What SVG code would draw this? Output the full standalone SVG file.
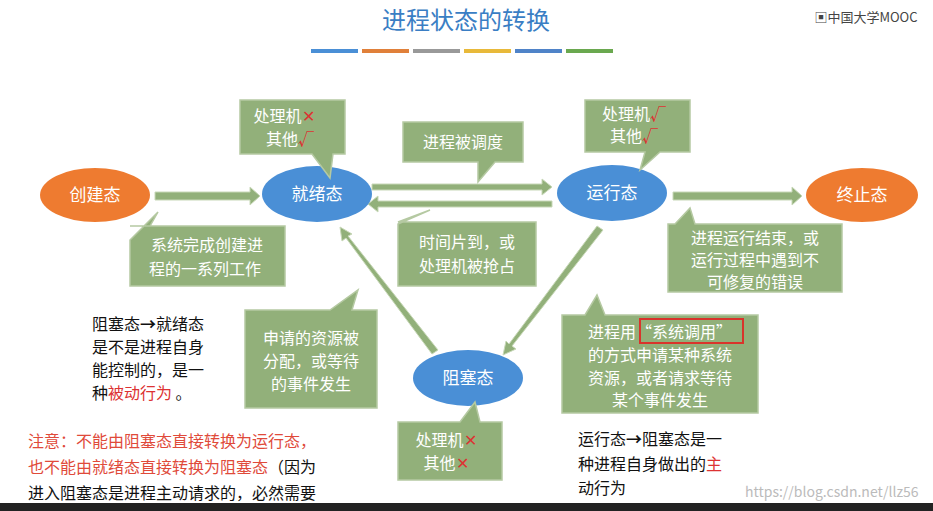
<svg xmlns="http://www.w3.org/2000/svg" width="933" height="511" viewBox="0 0 933 511">
<style>
text{font-family:"Noto Sans CJK SC","Liberation Sans",sans-serif}
.co{fill:#92b07a;stroke:#b5c9a2;stroke-width:1.5}
.ct{fill:#fff;font-size:16px;text-anchor:middle}
.st{fill:#fff;font-size:17px;text-anchor:middle}
.blk{fill:#4a8fd6}
.org{fill:#ee7b30}
.ar{fill:#92b07a;stroke:#c8d8b8;stroke-width:1}
.bt{font-size:16px;fill:#111}
.red{fill:#d33}
.nt{font-size:16px;fill:#e04a3a}
</style>
<rect width="933" height="511" fill="#fff"/>
<text x="466" y="29" font-size="24" fill="#3a7ec4" text-anchor="middle">进程状态的转换</text>
<g>
<rect x="311" y="49" width="47" height="4" fill="#4a8fd6"/>
<rect x="362" y="49" width="47" height="4" fill="#e0803a"/>
<rect x="413" y="49" width="47" height="4" fill="#999"/>
<rect x="464" y="49" width="47" height="4" fill="#e8b93a"/>
<rect x="515" y="49" width="47" height="4" fill="#4f83c8"/>
<rect x="566" y="49" width="47" height="4" fill="#6aa84f"/>
</g>
<text x="866" y="22" font-size="13" fill="#444" text-anchor="middle">▣中国大学MOOC</text>
<g id="connectors">
<polygon class="ar" points="155,192 250,192 250,187 260,196 250,205 250,200 155,200"/>
<polygon class="ar" points="372,184 542,184 542,179 552,187 542,195 542,190 372,190"/>
<polygon class="ar" points="552,201 378,201 378,196 368,204 378,212 378,207 552,207"/>
<polygon class="ar" points="673,192 792,192 792,187 802,196 792,205 792,200 673,200"/>
<polygon class="ar" points="597,226 603,230 512,346 516,349 503,355 506,341 509,344"/>
<polygon class="ar" points="438,350 432,354 346,238 342,241 340,227 352,234 348,236"/>
</g>
<g id="n1"><ellipse class="org" cx="95" cy="195" rx="55" ry="27"/><text class="st" x="95" y="201">创建态</text></g>
<g id="n2"><ellipse class="blk" cx="317" cy="194" rx="55" ry="28"/><text class="st" x="317" y="200">就绪态</text></g>
<g id="n3"><ellipse class="blk" cx="612" cy="193" rx="55" ry="28"/><text class="st" x="612" y="199">运行态</text></g>
<g id="n4"><ellipse class="org" cx="862" cy="195" rx="56" ry="27"/><text class="st" x="862" y="201">终止态</text></g>
<g id="n5"><ellipse class="blk" cx="468" cy="378" rx="55" ry="28"/><text class="st" x="468" y="384">阻塞态</text></g>
<g id="c1"><path class="co" d="M240,100 H345 V154 H333 L330,178 L312,154 H240 Z"/><text class="ct" x="284" y="122">处理机<tspan class="red">✕</tspan></text><text class="ct" x="290" y="145">其他<tspan class="red" font-weight="bold">√</tspan></text></g>
<g id="c2"><path class="co" d="M403,122 H523 V162 H495 L478,182 L478,162 H403 Z"/><text class="ct" x="463" y="148">进程被调度</text></g>
<g id="c3"><path class="co" d="M585,100 H690 V152 H660 L640,170 L645,152 H585 Z"/><text class="ct" x="634" y="120">处理机<tspan class="red" font-weight="bold">√</tspan></text><text class="ct" x="634" y="142">其他<tspan class="red" font-weight="bold">√</tspan></text></g>
<g id="c4"><path class="co" d="M130,226 H285 V286 H130 V240 L158,212 L150,226 Z"/><text class="ct" x="207" y="251">系统完成创建进</text><text class="ct" x="205" y="275">程的一系列工作</text></g>
<g id="c5"><path class="co" d="M398,222 H536 V286 H398 V224 L430,210 Z"/><text class="ct" x="467" y="248">时间片到，或</text><text class="ct" x="467" y="272">处理机被抢占</text></g>
<g id="c6"><path class="co" d="M668,224 H675 L690,208 L695,224 H842 V292 H668 Z"/><text class="ct" x="755" y="244">进程运行结束，或</text><text class="ct" x="755" y="266">运行过程中遇到不</text><text class="ct" x="755" y="288">可修复的错误</text></g>
<g id="c7"><path class="co" d="M245,310 H330 L358,290 L352,310 H377 V408 H245 Z"/><text class="ct" x="311" y="344">申请的资源被</text><text class="ct" x="311" y="367">分配，或等待</text><text class="ct" x="311" y="390">的事件发生</text></g>
<g id="c8"><path class="co" d="M562,315 H585 L597,295 L605,315 H758 V413 H562 Z"/><text class="ct" x="660" y="338">进程用“系统调用”</text><rect x="640" y="319" width="103" height="24" fill="none" stroke="#d9342b" stroke-width="2"/><text class="ct" x="660" y="361">的方式申请某种系统</text><text class="ct" x="660" y="384">资源，或者请求等待</text><text class="ct" x="660" y="406">某个事件发生</text></g>
<g id="c9"><path class="co" d="M398,422 H460 L475,402 L480,422 H502 V480 H398 Z"/><text class="ct" x="446" y="446">处理机<tspan class="red">✕</tspan></text><text class="ct" x="446" y="469">其他<tspan class="red">✕</tspan></text></g>
<g id="t1"><text class="bt" x="92" y="330">阻塞态<tspan font-weight="bold">→</tspan>就绪态</text><text class="bt" x="92" y="353">是不是进程自身</text><text class="bt" x="92" y="376">能控制的，是一</text><text class="bt" x="92" y="399">种<tspan fill="#d33">被动行为</tspan> 。</text></g>
<g id="t2"><text class="nt" x="28" y="447">注意：不能由阻塞态直接转换为运行态，</text><text class="nt" x="28" y="473">也不能由就绪态直接转换为阻塞态<tspan fill="#111">（因为</tspan></text><text class="bt" x="28" y="499">进入阻塞态是进程主动请求的，必然需要</text></g>
<g id="t3"><text class="bt" x="578" y="445">运行态<tspan font-weight="bold">→</tspan>阻塞态是一</text><text class="bt" x="578" y="470">种进程自身做出的<tspan fill="#d33">主</tspan></text><text class="bt" x="578" y="494" fill="#d33">动行为</text></g>
<text x="745" y="497" font-size="14" fill="#bbb">https://blog.csdn.net/llz56</text>
<rect x="0" y="503" width="933" height="8" fill="#222"/>
</svg>
